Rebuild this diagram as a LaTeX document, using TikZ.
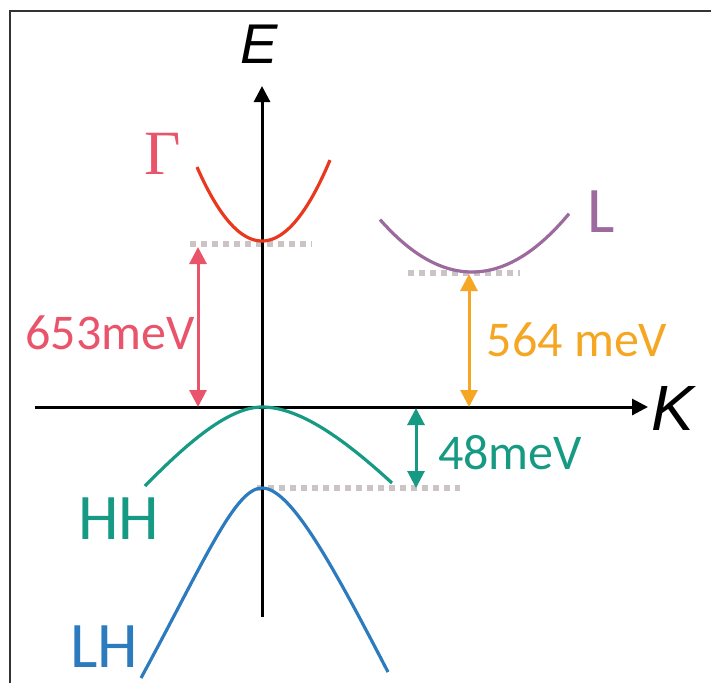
\documentclass[tikz,border=0pt]{standalone}
\usepackage{fontspec}
\setmainfont{Carlito}
\newfontfamily\axisfont{Liberation Sans}
\newfontfamily\gammafont{Liberation Serif}
\usetikzlibrary{positioning, arrows.meta}

\definecolor{gamred}{HTML}{E8381E}
\definecolor{gampink}{HTML}{E9546B}
\definecolor{lpurple}{HTML}{9C6A9E}
\definecolor{lorange}{HTML}{F5A623}
\definecolor{hhteal}{HTML}{179A84}
\definecolor{lhblue}{HTML}{2C7BBF}
\definecolor{levelgray}{HTML}{CCC4C4}

\tikzset{
    axis/.style={line width=3pt, -{Triangle[length=16pt, width=16pt]}},
    band/.style={line width=3.2pt},
    level/.style={levelgray, line width=5.5pt, dash pattern=on 6pt off 5pt},
    gaparrow/.style={line width=3pt, {Triangle[length=17pt, width=17pt]}-{Triangle[length=17pt, width=17pt]}},
    lbl/.style={inner sep=0pt, font=\fontsize{50}{60}\selectfont},
    biglbl/.style={inner sep=0pt, font=\fontsize{65}{78}\selectfont},
}

\begin{document}
\begin{tikzpicture}[x=1pt, y=-1pt]
    \useasboundingbox (0,0) rectangle (711,683);

    % frame
    \draw[line width=2pt, black!80] (10,683) -- (10,11) -- (711,11);

    \coordinate (O) at (262,407);
    \coordinate (Kstart) at (35,407);
    \coordinate (Kend) at (648,407);
    \coordinate (Ebot) at (262,617);
    \coordinate (Etop) at (262,86);

    \coordinate (Gmin) at (262,241);
    \coordinate (Lmin) at (472,272);
    \coordinate (LHtop) at (262,488);

    % dotted levels
    \draw[level] (190,244) -- (312,244);
    \draw[level] (408,273) -- (520,273);
    \draw[level] (257,488) -- (460,488);

    % axes
    \draw[axis] (Kstart) -- (Kend);
    \draw[axis] (Ebot) -- (Etop);
    \node[inner sep=0pt, font=\axisfont\itshape\fontsize{56}{66}\selectfont,
          above=22pt of Etop, xshift=-3pt] (Elab) {E};
    \node[inner sep=0pt, font=\axisfont\itshape\fontsize{64}{76}\selectfont,
          right=3pt of Kend, yshift=-1pt] (Klab) {K};

    % bands
    \draw[band, gamred] plot[domain=-65:68, samples=60] ({262+\x},{241-0.0175*\x*\x});
    \draw[band, lpurple] plot[domain=-92:97, samples=60] ({472+\x},{272-0.0062*\x*\x});
    \draw[band, hhteal] (145,486) .. controls (190,440) and (230,407) .. (O)
        .. controls (300,407) and (345,440) .. (392,483);
    \draw[band, lhblue] (141,678) .. controls (205,560) and (235,488) .. (LHtop)
        .. controls (290,488) and (330,560) .. (388,672);

    % gaps
    \coordinate (gA) at (198,247);
    \coordinate (gB) at (198,407);
    \coordinate (lA) at (469,274);
    \coordinate (lB) at (469,407);
    \coordinate (hA) at (416,408);
    \coordinate (hB) at (416,488);
    \draw[gaparrow, gampink] (gA) -- (gB);
    \draw[gaparrow, lorange] (lA) -- (lB);
    \draw[gaparrow, hhteal] (hA) -- (hB);

    % labels
    \node[lbl, gampink] (gapG) at (110,333) {653meV};
    \node[lbl, lorange] (gapL) at (577,340) {564 meV};
    \node[lbl, hhteal] (gapH) at (510,453) {48meV};
    \node[inner sep=0pt, gampink, font=\gammafont\fontsize{63}{75}\selectfont] (Glab) at (163,154) {Γ};
    \node[biglbl, lpurple] (Llab) at (601,212) {L};
    \node[biglbl, hhteal] (HHlab) at (119,519) {HH};
    \node[biglbl, lhblue] (LHlab) at (104,647) {LH};
\end{tikzpicture}
\end{document}
